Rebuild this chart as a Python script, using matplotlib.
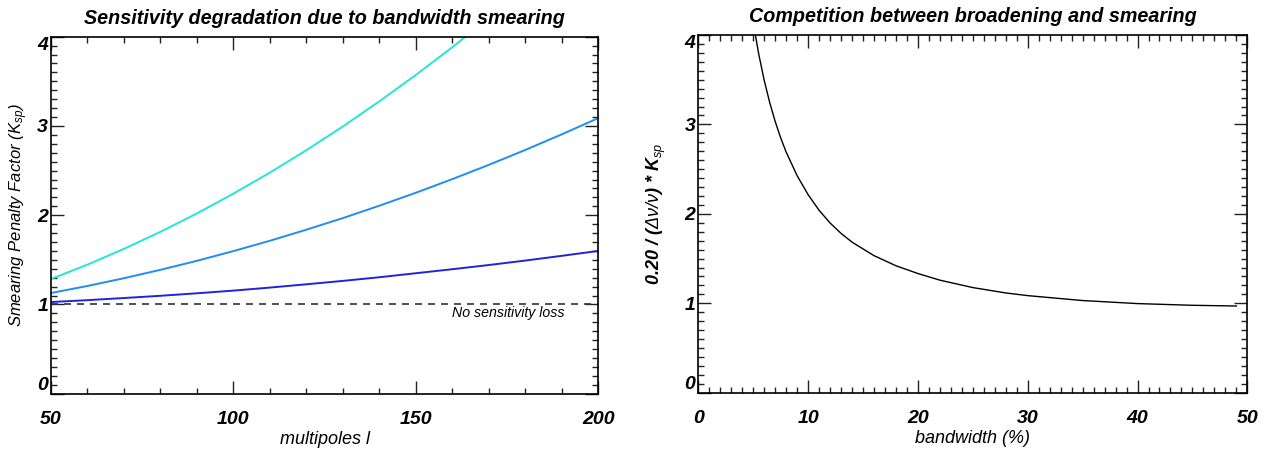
import matplotlib
matplotlib.use("Agg")
import matplotlib.pyplot as plt
from matplotlib.ticker import MultipleLocator, FixedLocator
from matplotlib import font_manager

# ---------------- data ----------------
multipoles = [50, 60, 70, 80, 90, 100, 110, 120, 130, 140, 150, 160, 170, 180, 190, 200]
k_cyan = [1.285, 1.446, 1.623, 1.814, 2.020, 2.242, 2.478, 2.729, 2.995, 3.277, 3.573, 3.884,
          4.21, 4.55, 4.90, 5.26]
k_mid = [1.128, 1.207, 1.294, 1.388, 1.489, 1.598, 1.714, 1.838, 1.968, 2.107, 2.252, 2.405,
         2.565, 2.732, 2.907, 3.089]
k_dark = [1.027, 1.048, 1.072, 1.097, 1.125, 1.155, 1.189, 1.226, 1.264, 1.305, 1.350, 1.395,
          1.442, 1.492, 1.545, 1.600]
no_loss_level = 1.0

bandwidth = [5.0, 5.5, 6, 6.5, 7, 7.5, 8, 9, 10, 11, 12, 13, 14, 16, 18, 20, 22, 25, 28, 30,
             35, 40, 45, 49]
competition = [4.14, 3.789, 3.494, 3.246, 3.034, 2.851, 2.691, 2.427, 2.215, 2.040, 1.898,
               1.782, 1.684, 1.533, 1.420, 1.333, 1.259, 1.176, 1.116, 1.086, 1.031, 0.997,
               0.978, 0.970]

# ---------------- style ----------------
avail = {f.name for f in font_manager.fontManager.ttflist}
fam = 'Liberation Sans Narrow' if 'Liberation Sans Narrow' in avail else 'Liberation Sans'
plt.rcParams['font.family'] = [fam, 'DejaVu Sans']
plt.rcParams['mathtext.fontset'] = 'custom'
plt.rcParams['mathtext.rm'] = fam + ':italic'
plt.rcParams['mathtext.it'] = fam + ':italic'
plt.rcParams['mathtext.bf'] = fam + ':bold:italic'

fig = plt.figure(figsize=(12.68, 4.49), dpi=100)
ax1 = fig.add_axes([0.0402, 0.1232, 0.4318, 0.795])
ax2 = fig.add_axes([0.5507, 0.1252, 0.4330, 0.797])


def style_axes(ax):
    for s in ax.spines.values():
        s.set_linewidth(1.2)
    ax.tick_params(which='both', direction='in', top=True, right=True, width=1.0, color='#222222')
    ax.tick_params(which='major', length=9.5)
    ax.tick_params(which='minor', length=4.5)
    ax.tick_params(axis='x', pad=12.5)
    ax.tick_params(axis='y', pad=2)
    for lab in ax.get_xticklabels() + ax.get_yticklabels():
        lab.set_fontfamily([fam, 'DejaVu Sans'])
        lab.set_fontsize(14)
        lab.set_fontweight('bold')
        lab.set_fontstyle('italic')
    yt = ax.yaxis.get_major_ticks()
    yt[0].label1.set_verticalalignment('bottom')
    yt[-1].label1.set_verticalalignment('top')


# left panel
ax1.plot(multipoles, k_cyan, color='#22e6d6', lw=1.4)
ax1.plot(multipoles, k_mid, color='#1e8ff0', lw=1.4)
ax1.plot(multipoles, k_dark, color='#2222dd', lw=1.4)
ax1.axhline(no_loss_level, color='#333333', lw=1.2, dashes=(4.2, 3.6))
ax1.text(190.8, 0.905, 'No sensitivity loss', ha='right', va='center', fontsize=10.2,
         style='italic', family=[fam, 'DejaVu Sans'])
ax1.set_xlim(50, 200)
ax1.set_ylim(0, 4)
ax1.xaxis.set_major_locator(FixedLocator([50, 100, 150, 200]))
ax1.xaxis.set_minor_locator(MultipleLocator(10))
ax1.yaxis.set_major_locator(FixedLocator([0, 1, 2, 3, 4]))
ax1.yaxis.set_minor_locator(MultipleLocator(0.1))
style_axes(ax1)
ax1.set_title('Sensitivity degradation due to bandwidth smearing', fontsize=14.2,
              weight='bold', style='italic', pad=9)
ax1.set_xlabel('multipoles l', fontsize=13, style='italic', labelpad=2)
ax1.set_ylabel('Smearing Penalty Factor (K$_{sp}$)', fontsize=12, style='italic', labelpad=5)

# right panel
ax2.plot(bandwidth, competition, color='black', lw=1.0)
ax2.set_xlim(0, 50)
ax2.set_ylim(0, 4)
ax2.xaxis.set_major_locator(FixedLocator([0, 10, 20, 30, 40, 50]))
ax2.xaxis.set_minor_locator(MultipleLocator(1))
ax2.yaxis.set_major_locator(FixedLocator([0, 1, 2, 3, 4]))
ax2.yaxis.set_minor_locator(MultipleLocator(0.1))
style_axes(ax2)
ax2.set_title('Competition between broadening and smearing', fontsize=14.2,
              weight='bold', style='italic', pad=9)
ax2.set_xlabel('bandwidth (%)', fontsize=13, style='italic', labelpad=2)
ax2.set_ylabel(r'0.20 / ($\Delta\nu/\nu$) * K$_{sp}$', fontsize=13, style='italic',
               weight='bold', labelpad=12)

fig.savefig('out.png', dpi=100)
